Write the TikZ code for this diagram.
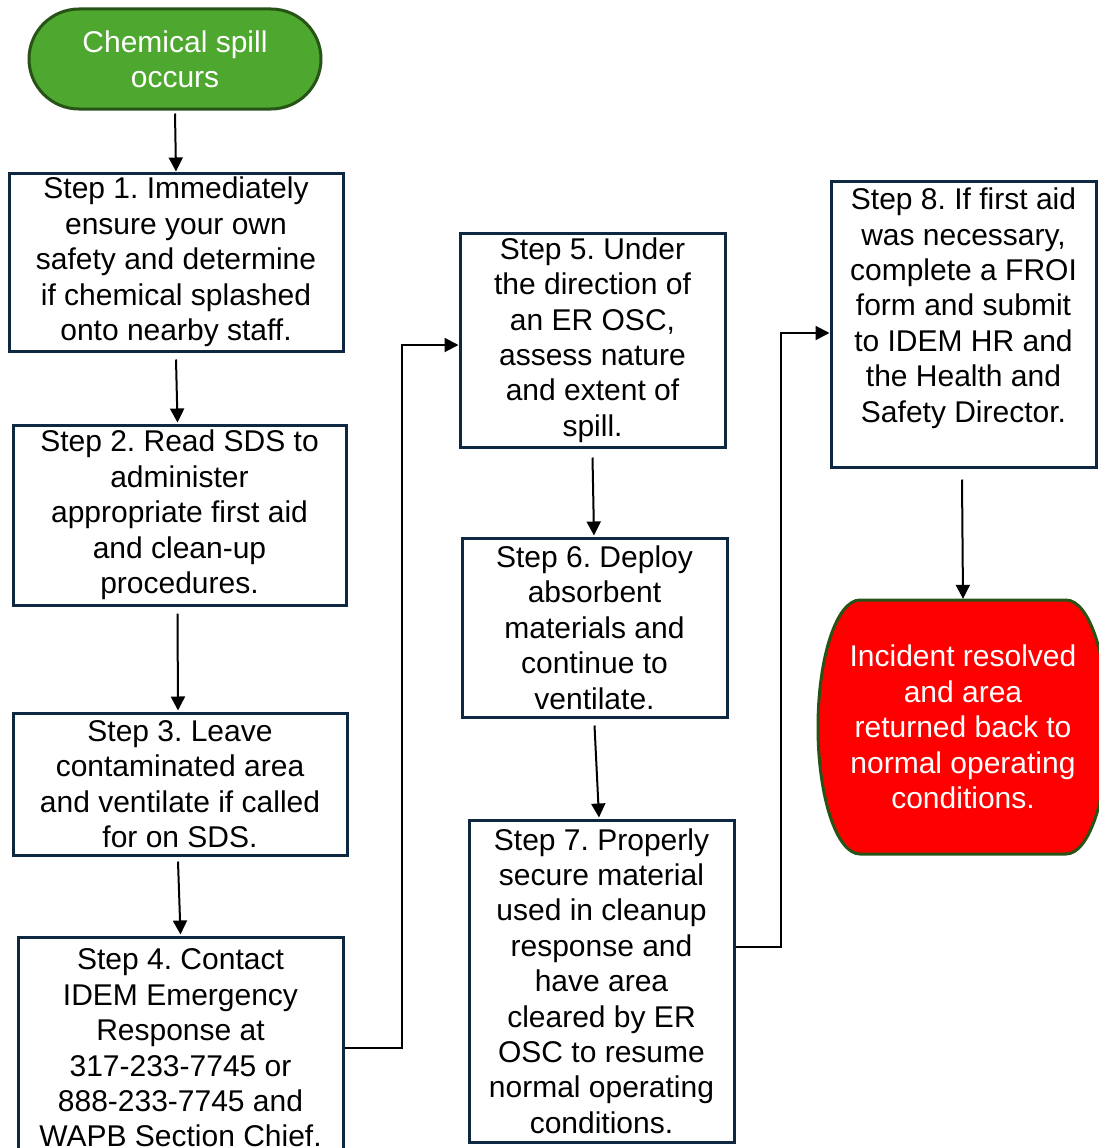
\documentclass[tikz,border=0pt]{standalone}
\usepackage{fontspec}
\setmainfont{Liberation Sans}
\frenchspacing
\usetikzlibrary{arrows.meta,calc}
\definecolor{boxline}{HTML}{0E2841}
\definecolor{spillgreen}{HTML}{4EA72E}
\definecolor{darkgreen}{HTML}{275317}
\definecolor{donered}{HTML}{FF0000}
\tikzset{
	flow/.style={-{Triangle[length=14pt,width=14pt]}, line width=2pt}, % connectors between the steps
	stepbox/.style={draw=boxline, line width=3pt, fill=white, align=center, inner sep=2pt,
		font=\fontsize{30}{35.4}\selectfont}, % the white step boxes
	startbox/.style={stepbox, draw=darkgreen, fill=spillgreen, text=white, rounded corners=50pt},
	donetext/.style={align=center, text=white, inner sep=2pt, font=\fontsize{30}{35.4}\selectfont},
	doneshape/.style={draw=darkgreen, line width=3pt, fill=donered},
}
\begin{document}
\begin{tikzpicture}[x=1pt,y=-1pt]
	\useasboundingbox (0,0) rectangle (1099,1148);
	% first column
	\node[startbox, minimum width=292, minimum height=100] (spill) at (175,59) {Chemical spill\\occurs};
	\node[stepbox, minimum width=334, minimum height=178] (s1) at (176,262) {Step 1. Immediately\\ensure your own\\safety and determine\\if chemical splashed\\onto nearby staff.};
	\node[stepbox, minimum width=333, minimum height=180] (s2) at (179.5,515) {Step 2. Read SDS to\\administer\\appropriate first aid\\and clean-up\\procedures.};
	\node[stepbox, minimum width=334, minimum height=142] (s3) at (180,784) {Step 3. Leave\\contaminated area\\and ventilate if called\\for on SDS.};
	\node[stepbox, minimum width=325, minimum height=222] (s4) at (180.5,1048) {Step 4. Contact\\IDEM Emergency\\Response at\\317-233-7745 or\\888-233-7745 and\\WAPB Section Chief.};
	% second column
	\node[stepbox, minimum width=265, minimum height=214] (s5) at (592.5,340) {Step 5. Under\\the direction of\\an ER OSC,\\assess nature\\and extent of\\spill.};
	\node[stepbox, minimum width=265, minimum height=179] (s6) at (594.5,627.5) {Step 6. Deploy\\absorbent\\materials and\\continue to\\ventilate.};
	\node[stepbox, minimum width=265, minimum height=322] (s7) at (601.5,981) {Step 7. Properly\\secure material\\used in cleanup\\response and\\have area\\cleared by ER\\OSC to resume\\normal operating\\conditions.};
	% third column
	\node[stepbox, minimum width=265, minimum height=286, text depth=38pt] (s8) at (963.5,324) {Step 8. If first aid\\was necessary,\\complete a FROI\\form and submit\\to IDEM HR and\\the Health and\\Safety Director.};
	\coordinate (donec) at (963,727);
	\draw[doneshape] ($(donec)+(-103,-127)$) -- ++(206,0)
		arc[start angle=-90, end angle=90, x radius=42, y radius=127] -- ++(-206,0)
		arc[start angle=90, end angle=270, x radius=42, y radius=127] -- cycle;
	\node[donetext, minimum width=290, minimum height=254] (done) at (donec) {Incident resolved\\and area\\returned back to\\normal operating\\conditions.};

	\draw[flow] ([yshift=-3pt]spill.south) -- (s1.north);
	\draw[flow] ([yshift=-7pt]s1.south) -- ([xshift=-2pt,yshift=1pt]s2.north);
	\draw[flow] ([xshift=-2pt,yshift=-7pt]s2.south) -- ([xshift=-2pt,yshift=1pt]s3.north);
	\draw[flow] ([xshift=-2pt,yshift=-5pt]s3.south) -- ([yshift=1pt]s4.north);
	\draw[flow] (s4.east) -- ++(57,0) |- ([yshift=-5pt]s5.west);
	\draw[flow] ([yshift=-9pt]s5.south) -- ([xshift=-0.5pt,yshift=1pt]s6.north);
	\draw[flow] ([yshift=-7pt]s6.south) -- ([xshift=-2.5pt,yshift=1pt]s7.north);
	\draw[flow] ([yshift=34pt]s7.east) -- ++(45,0) |- ([yshift=-9pt]s8.west);
	\draw[flow] ([xshift=-1.5pt,yshift=-11pt]s8.south) -- ([yshift=1pt]done.north);
\end{tikzpicture}
\end{document}
